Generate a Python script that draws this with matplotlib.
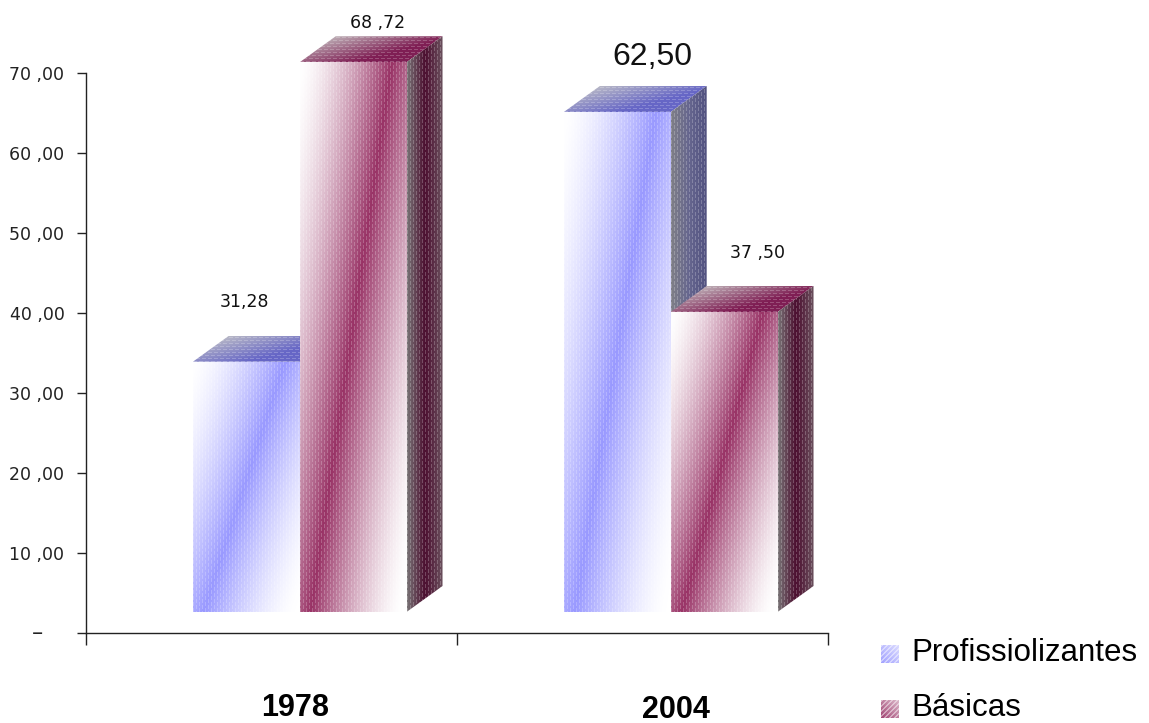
import numpy as np
import matplotlib
matplotlib.use("Agg")
import matplotlib.pyplot as plt
from matplotlib.patches import Polygon

# ---- data ----
years = ["1978", "2004"]
series = ["Profissiolizantes", "Básicas"]
profissiolizantes = [31.28, 62.50]
basicas = [68.72, 37.50]
value_labels = [["31,28", "62,50"], ["68 ,72", "37 ,50"]]
y_ticks = [0, 10, 20, 30, 40, 50, 60, 70]
y_tick_labels = ["", "10 ,00", "20 ,00", "30 ,00", "40 ,00", "50 ,00", "60 ,00", "70 ,00"]

# ---- layout / styling ----
W, H, DPI = 1149, 723, 100
fig = plt.figure(figsize=(W / DPI, H / DPI), dpi=DPI)
fig.patch.set_facecolor("white")

ax_left, ax_right, ax_bottom = 86, 828, 633
ymax = 633 / 8.0
ax = fig.add_axes([ax_left / W, (H - ax_bottom) / H, (ax_right - ax_left) / W, ax_bottom / H])
ax.set_xlim(0, 2)
ax.set_ylim(0, ymax)
px_x = (ax_right - ax_left) / 2.0   # pixels per x unit
px_y = 8.0                          # pixels per y unit

bar_w = 0.288
group_off = 0.288
base = 2.625          # front-face floor
dx, dy = 0.097, 3.25  # 3D depth offset

blue = np.array([0.60, 0.60, 1.00])
plum = np.array([0.60, 0.20, 0.40])
white = np.array([1.0, 1.0, 1.0])

styles = [
    dict(front=blue,
         top=(np.array([0.72, 0.72, 0.78]), np.array([0.40, 0.40, 0.78])),
         side=[np.array([0.50, 0.50, 0.53]), np.array([0.40, 0.40, 0.56]), np.array([0.32, 0.32, 0.50])]),
    dict(front=plum,
         top=(np.array([0.74, 0.68, 0.71]), np.array([0.50, 0.12, 0.33])),
         side=[np.array([0.47, 0.45, 0.46]), np.array([0.30, 0.06, 0.19]), np.array([0.42, 0.32, 0.37])]),
]


def texture(nx, ny, horizontal=False):
    j, i = np.meshgrid(np.arange(nx), np.arange(ny))
    if horizontal:
        i, j = j, i
    m = (j % 3 == 0) & (((i + ((j // 3) % 2) * 3) % 6) < 4)
    return m.astype(float)


def draw_face(poly, colour_fn, z, horizontal=False, tex=0.22):
    poly = np.asarray(poly)
    x0, y0 = poly.min(axis=0)
    x1, y1 = poly.max(axis=0)
    nx = max(int(round((x1 - x0) * px_x)), 2)
    ny = max(int(round((y1 - y0) * px_y)), 2)
    xs = x0 + (np.arange(nx) + 0.5) / nx * (x1 - x0)
    ys = y0 + (np.arange(ny) + 0.5) / ny * (y1 - y0)
    X, Y = np.meshgrid(xs, ys)
    rgb = colour_fn(X, Y)
    t = texture(nx, ny, horizontal)[..., None] * tex
    rgb = rgb * (1 - t) + white * t
    rgb = np.clip(rgb, 0, 1)
    im = ax.imshow(rgb, extent=(x0, x1, y0, y1), origin="lower", aspect="auto",
                   interpolation="bilinear", zorder=z)
    clip = Polygon(poly, closed=True, transform=ax.transData)
    im.set_clip_path(clip)


def lerp3(stops, t):
    t = np.clip(t, 0, 1)[..., None]
    a, b, c = stops
    lo = a + (b - a) * np.clip(t * 2, 0, 1)
    hi = b + (c - b) * np.clip(t * 2 - 1, 0, 1)
    return np.where(t < 0.5, lo, hi)


def draw_bar(xl, val, st, z):
    xr = xl + bar_w
    top = base + val
    # front face: diagonal band of colour fading smoothly to white
    def front_fn(X, Y, xl=xl, top=top):
        u = (X - xl) / bar_w
        w = (Y - base) / (top - base)
        c = 0.10 + 0.76 * w
        r = np.clip(np.abs(u - c) / 0.85, 0, 1)
        I = (1 - r) ** 1.5
        return white * (1 - I[..., None]) + st["front"] * I[..., None]
    draw_face([(xl, base), (xr, base), (xr, top), (xl, top)], front_fn, z)

    # top face
    def top_fn(X, Y, xl=xl, top=top):
        d = np.clip((Y - top) / dy, 0, 1)
        u = (X - xl - d * dx) / bar_w
        t = np.clip(u * 0.9 + (1 - d) * 0.55, 0, 1)[..., None]
        g, c = st["top"]
        return g * (1 - t) + c * t
    draw_face([(xl, top), (xr, top), (xr + dx, top + dy), (xl + dx, top + dy)], top_fn, z,
              horizontal=True)

    # side face
    def side_fn(X, Y, xr=xr):
        u = (X - xr) / dx
        return lerp3(st["side"], u)
    draw_face([(xr, base), (xr + dx, base + dy), (xr + dx, top + dy), (xr, top)], side_fn, z)


z = 2
for k, year in enumerate(years):
    vals = [profissiolizantes[k], basicas[k]]
    for s in range(2):
        xl = k + group_off + s * bar_w
        draw_bar(xl, vals[s], styles[s], z)
        z += 1

# value labels: (x offset from front centre, y offset above front top, size, family)
label_pos = {
    (0, 0): (-0.006, 6.9, 12.5, "DejaVu Sans"),
    (1, 0): (0.067, 4.3, 12.5, "DejaVu Sans"),
    (0, 1): (0.094, 5.9, 23, "Liberation Sans"),
    (1, 1): (0.089, 6.7, 12.5, "DejaVu Sans"),
}
for k in range(2):
    vals = [profissiolizantes[k], basicas[k]]
    for s in range(2):
        xc = k + group_off + s * bar_w + bar_w / 2
        ox, oy, fs, fam = label_pos[(s, k)]
        ax.text(xc + ox, base + vals[s] + oy, value_labels[s][k], ha="center", va="baseline",
                fontsize=fs, family=fam, color="#111111", clip_on=False, zorder=20)

# axes
for sp in ("top", "right"):
    ax.spines[sp].set_visible(False)
ax.spines["left"].set_bounds(0, 70)
ax.spines["bottom"].set_bounds(0, 2)
for sp in ("left", "bottom"):
    ax.spines[sp].set_linewidth(1.0)
    ax.spines[sp].set_color("#222222")

ax.set_yticks(y_ticks)
ax.set_yticklabels(y_tick_labels, family="DejaVu Sans", fontsize=12.5, color="#222222")
ax.tick_params(axis="y", direction="out", length=6.5, width=1.0, color="#222222", pad=9)
ax.set_xticks([0, 1, 2])
ax.set_xticklabels([])
ax.tick_params(axis="x", direction="out", length=8.5, width=1.0, color="#222222")
ax.text(-0.0647, 0, "–", transform=ax.get_yaxis_transform(), ha="center", va="center",
        fontsize=16, family="DejaVu Sans", color="#222222")

# category labels
cat_x = [295, 676]
cat_base = [716, 718]
for name, cx, cb in zip(years, cat_x, cat_base):
    fig.text(cx / W, 1 - cb / H, name, ha="center", va="baseline", fontsize=22,
             fontweight="bold", family="Liberation Sans", color="black")

# legend
leg_y = [654, 709]
for name, ly, st in zip(series, leg_y, styles):
    lax = fig.add_axes([881 / W, 1 - (ly + 9) / H, 18 / W, 18 / H])
    lax.set_axis_off()
    n = 18
    jj, ii = np.meshgrid(np.arange(n), np.arange(n))
    diag = (ii + jj) % 5
    stripe = (diag < 2).astype(float)
    tgrad = (jj + (n - 1 - ii)) / (2 * (n - 1))
    col = st["front"]
    base_col = white * (1 - 0.9 * (1 - tgrad[..., None] * 0.6)) + col * 0.9 * (1 - tgrad[..., None] * 0.6)
    img = base_col * (1 - 0.45 * stripe[..., None]) + white * 0.45 * stripe[..., None]
    lax.imshow(np.clip(img, 0, 1), interpolation="bilinear", aspect="auto")
    fig.text(911 / W, 1 - (ly + 7) / H, name, ha="left", va="baseline", fontsize=22.5,
             family="Liberation Sans", color="black")

fig.savefig("out.png", dpi=DPI, facecolor="white")
